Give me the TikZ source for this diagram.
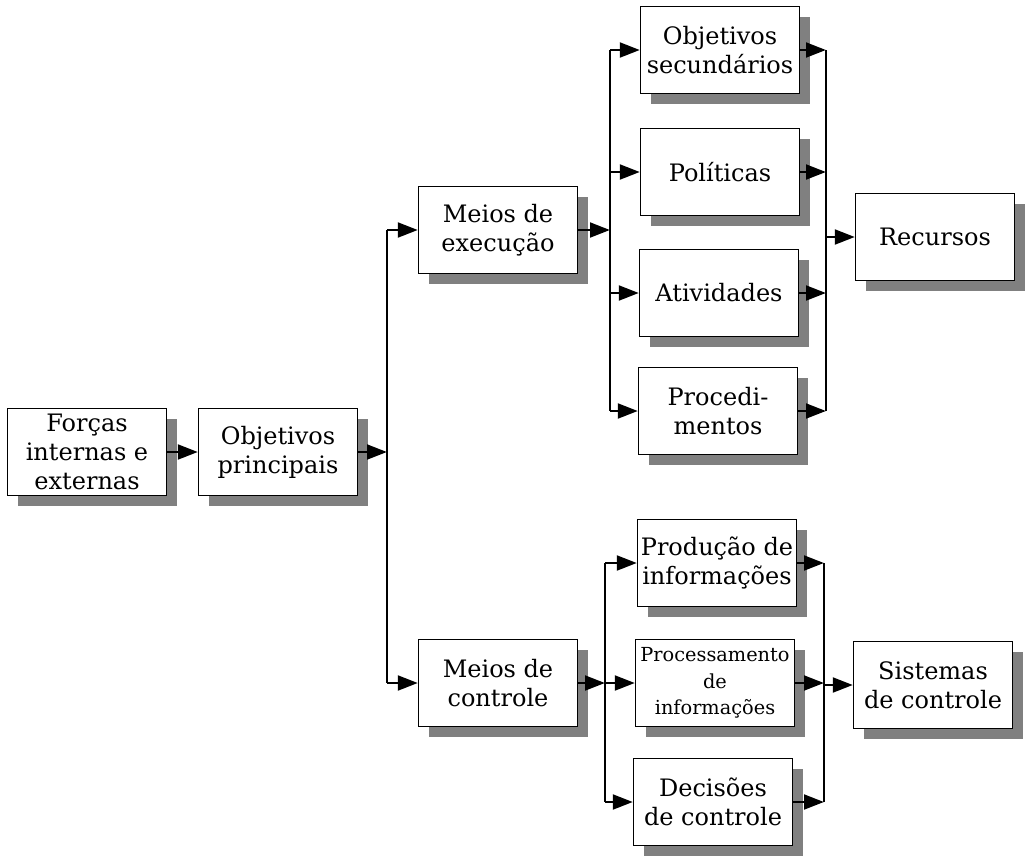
\documentclass[tikz,border=0pt]{standalone}
\usepackage{fontspec}
\setmainfont{DejaVu Serif}
\usetikzlibrary{arrows.meta,shadows}
\begin{document}
\begin{tikzpicture}[x=0.75pt,y=-0.75pt,
  box/.style={draw=black,line width=1.2pt,fill=white,align=center,
    minimum width=119pt,minimum height=65pt,inner sep=2pt,
    font=\fontsize{18}{21.8}\selectfont,
    drop shadow={shadow xshift=8pt,shadow yshift=-8pt,fill=black!50,opacity=1}},
  small/.style={font=\fontsize{14.5}{20}\selectfont},
  link/.style={line width=2.2pt},
  arr/.style={link,-{Triangle[length=15pt,width=11pt]}}]
\useasboundingbox (0,0) rectangle (1026,858);

% boxes
\node[box] (forcas) at (87,452) {Forças\\internas e\\externas};
\node[box] (objp) at (278,452) {Objetivos\\principais};
\node[box] (mexec) at (498,230) {Meios de\\execução};
\node[box] (mctrl) at (498,683) {Meios de\\controle};
\node[box] (objs) at (720,50) {Objetivos\\secundários};
\node[box] (polit) at (720,172) {Políticas};
\node[box] (ativ) at (719,293) {Atividades};
\node[box] (proc) at (718,411) {Procedi-\\mentos};
\node[box] (recur) at (935,237) {Recursos};
\node[box] (prod) at (717,563) {Produção de\\informações};
\node[box,small] (process) at (715,683) {Processamento\\de\\informações};
\node[box] (decis) at (713,802) {Decisões\\de controle};
\node[box] (sist) at (933,685) {Sistemas\\de controle};

% bus lines
\coordinate (busA) at (387,0);
\coordinate (busB) at (610,0);
\coordinate (busC) at (826,0);
\coordinate (busD) at (605,0);
\coordinate (busE) at (824,0);

\draw[arr] (forcas.east) -- (objp.west);

% main split
\draw[arr] (objp.east) -- (objp.east -| busA);
\draw[link] (mexec.west -| busA) -- (mctrl.west -| busA);
\draw[arr] (mexec.west -| busA) -- (mexec.west);
\draw[arr] (mctrl.west -| busA) -- (mctrl.west);

% execution branch
\draw[arr] (mexec.east) -- (mexec.east -| busB);
\draw[link] (objs.west -| busB) -- (proc.west -| busB);
\foreach \n in {objs,polit,ativ,proc}
  \draw[arr] (\n.west -| busB) -- (\n.west);
\draw[link] (objs.east -| busC) -- (proc.east -| busC);
\foreach \n in {objs,polit,ativ,proc}
  \draw[arr] (\n.east) -- (\n.east -| busC);
\draw[arr] (recur.west -| busC) -- (recur.west);

% control branch
\draw[arr] (mctrl.east) -- (mctrl.east -| busD);
\draw[link] (prod.west -| busD) -- (decis.west -| busD);
\foreach \n in {prod,process,decis}
  \draw[arr] (\n.west -| busD) -- (\n.west);
\draw[link] (prod.east -| busE) -- (decis.east -| busE);
\foreach \n in {prod,process,decis}
  \draw[arr] (\n.east) -- (\n.east -| busE);
\draw[arr] (sist.west -| busE) -- (sist.west);
\end{tikzpicture}
\end{document}
